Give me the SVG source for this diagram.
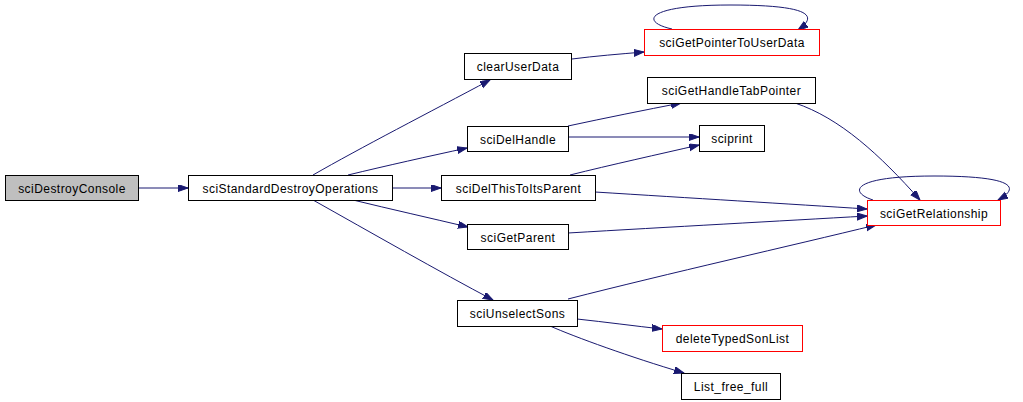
<svg xmlns="http://www.w3.org/2000/svg" width="1023" height="402" viewBox="0 0 1023 402">
<style>
.n rect{fill:#ffffff;stroke:#000000;stroke-width:1}
.n.root rect{fill:#bfbfbf}
.n.red rect{stroke:#ff0000}
.n text{font-family:"Liberation Sans",Arial,sans-serif;font-size:12px;letter-spacing:0.45px;fill:#000000;text-anchor:middle}
.e path{fill:none;stroke:#191970;stroke-width:1;marker-end:url(#ah)}
</style>
<defs>
<marker id="ah" markerUnits="userSpaceOnUse" markerWidth="11" markerHeight="8" refX="10" refY="3.5" orient="auto">
<path d="M0,0 L10,3.5 L0,7 z" fill="#191970" stroke="#191970" stroke-width="1"/>
</marker>
</defs>
<rect width="1023" height="402" fill="#ffffff"/>
<g id="edges" class="e">
<path d="M139,188 L188,188"/>
<path d="M313,175 C360,148 430,112 490,80"/>
<path d="M348,175 C385,166 430,156 467,148"/>
<path d="M393,188 L441,188"/>
<path d="M353,200 C390,209 430,218 468,227"/>
<path d="M313,200 C370,232 440,272 493,300"/>
<path d="M572,59 C595,56 620,54 644,52"/>
<path d="M672,29 C640,22 645,5 730,5 C812,5 818,16 798,30"/>
<path d="M568,126 C605,118 645,110 681,103"/>
<path d="M568,137 L699,137"/>
<path d="M570,175 C610,165 660,154 699,145"/>
<path d="M795,103 C840,118 880,155 920,200"/>
<path d="M595,192 C690,198 790,204 867,209"/>
<path d="M568,233 C670,227 780,221 867,216"/>
<path d="M568,299 C670,273 790,246 876,225"/>
<path d="M873,200 C848,192 852,176 934,176 C1016,176 1020,188 998,200"/>
<path d="M577,319 C605,322 635,326 662,329"/>
<path d="M550,326 C575,337 630,357 684,373"/>
</g>
<g id="sciDestroyConsole" class="n root"><rect x="5.5" y="175.5" width="133" height="25"/><text x="72" y="192.5">sciDestroyConsole</text></g>
<g id="sciStandardDestroyOperations" class="n"><rect x="188.5" y="175.5" width="204" height="25"/><text x="290.5" y="192.5">sciStandardDestroyOperations</text></g>
<g id="clearUserData" class="n"><rect x="464.5" y="53.5" width="107" height="26"/><text x="518" y="71">clearUserData</text></g>
<g id="sciGetPointerToUserData" class="n red"><rect x="644.5" y="29.5" width="175" height="26"/><text x="732" y="47">sciGetPointerToUserData</text></g>
<g id="sciGetHandleTabPointer" class="n"><rect x="647.5" y="77.5" width="168" height="26"/><text x="731.5" y="95">sciGetHandleTabPointer</text></g>
<g id="sciDelHandle" class="n"><rect x="467.5" y="126.5" width="101" height="25"/><text x="518" y="143.5">sciDelHandle</text></g>
<g id="sciprint" class="n"><rect x="699.5" y="125.5" width="65" height="26"/><text x="732" y="143">sciprint</text></g>
<g id="sciDelThisToItsParent" class="n"><rect x="441.5" y="175.5" width="154" height="25"/><text x="518.5" y="192.5">sciDelThisToItsParent</text></g>
<g id="sciGetRelationship" class="n red"><rect x="867.5" y="200.5" width="133" height="25"/><text x="934" y="217.5">sciGetRelationship</text></g>
<g id="sciGetParent" class="n"><rect x="467.5" y="224.5" width="101" height="25"/><text x="518" y="241.5">sciGetParent</text></g>
<g id="sciUnselectSons" class="n"><rect x="457.5" y="300.5" width="120" height="26"/><text x="517.5" y="318">sciUnselectSons</text></g>
<g id="deleteTypedSonList" class="n red"><rect x="662.5" y="325.5" width="140" height="26"/><text x="732.5" y="343">deleteTypedSonList</text></g>
<g id="List_free_full" class="n"><rect x="681.5" y="373.5" width="99" height="26"/><text x="731" y="391">List_free_full</text></g>
</svg>
